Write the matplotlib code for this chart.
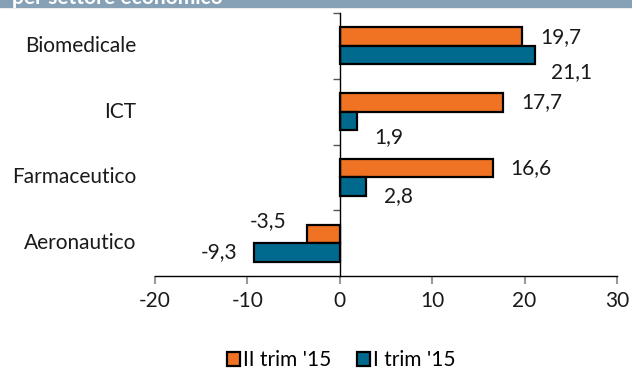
import matplotlib.pyplot as plt
from matplotlib.patches import Rectangle
import matplotlib.transforms as mtransforms
import numpy as np

plt.rcParams['font.family'] = ['Lato', 'DejaVu Sans']

# dati
settori = ["Biomedicale", "ICT", "Farmaceutico", "Aeronautico"]
serie_nomi = ["II trim '15", "I trim '15"]
ii_trim_15 = [19.7, 17.7, 16.6, -3.5]
i_trim_15 = [21.1, 1.9, 2.8, -9.3]
xticks = [-20, -10, 0, 10, 20, 30]

arancio = "#F07323"
blu = "#006A8E"
testo = "#1a1a1a"
fs = 15

fig = plt.figure(figsize=(6.32, 3.72), dpi=100)
ax = fig.add_axes([155 / 632, 1 - 276 / 372, 462 / 632, 263 / 372])

y = np.arange(len(settori))
h = 0.28
b1 = ax.barh(y - h / 2, ii_trim_15, height=h, color=arancio, edgecolor="black",
             linewidth=1.6, label=serie_nomi[0])
b2 = ax.barh(y + h / 2, i_trim_15, height=h, color=blu, edgecolor="black",
             linewidth=1.6, label=serie_nomi[1])

ax.set_xlim(-20, 30)
ax.set_ylim(len(settori) - 0.5, -0.5)

# etichette dei valori (offset in punti, come nel grafico originale)
off_ii = [(13, 0), (13, 0), (12, 0), (-15, 9)]
off_i = [(12, -12), (12, -12), (13, -7), (-12, 0)]
for barre, vals, offs in ((b1, ii_trim_15, off_ii), (b2, i_trim_15, off_i)):
    for rect, v, (dx, dy) in zip(barre, vals, offs):
        yc = rect.get_y() + rect.get_height() / 2
        ax.annotate(f"{v:.1f}".replace(".", ","), (v, yc),
                    xytext=(dx, dy), textcoords="offset points",
                    ha="left" if v >= 0 else "right", va="center",
                    fontsize=fs, color=testo)

# nomi dei settori a sinistra
trans = mtransforms.blended_transform_factory(ax.transAxes, ax.transData)
for yi, s in zip(y, settori):
    ax.text(-0.04, yi, s, transform=trans, ha="right", va="center",
            fontsize=fs, color=testo)

# assi
for s in ["top", "right"]:
    ax.spines[s].set_visible(False)
ax.spines["left"].set_position(("data", 0))
ax.spines["left"].set_linewidth(1.0)
ax.spines["bottom"].set_linewidth(1.0)
ax.set_yticks([])
ax.set_yticks(np.arange(-0.5, len(settori) - 0.5, 1.0), minor=True)
ax.tick_params(axis="y", which="minor", length=5, direction="out",
               color="#555555", width=1)
ax.set_xticks(xticks)
ax.set_xticklabels([str(t) for t in xticks], fontsize=fs, color=testo)
ax.tick_params(axis="x", length=6, color="#999999", width=1.5, pad=5)

# legenda
fig.legend(handles=[b1, b2], labels=serie_nomi, loc="center",
           bbox_to_anchor=(0.54, 1 - 360 / 372), ncol=2, frameon=False,
           fontsize=fs, handlelength=0.65, handleheight=0.65,
           handletextpad=0.15, columnspacing=1.2)

# fascia del titolo (tagliata in alto)
fig.patches.append(Rectangle((0, 1 - 7 / 372), 1, 7 / 372,
                             transform=fig.transFigure, color="#86A1B6",
                             zorder=0))
fig.text(12 / 632, 1 - 4 / 372, "per settore economico", color="white",
         fontsize=fs, fontweight="bold", va="baseline", ha="left")

fig.savefig("out.png", dpi=100)
